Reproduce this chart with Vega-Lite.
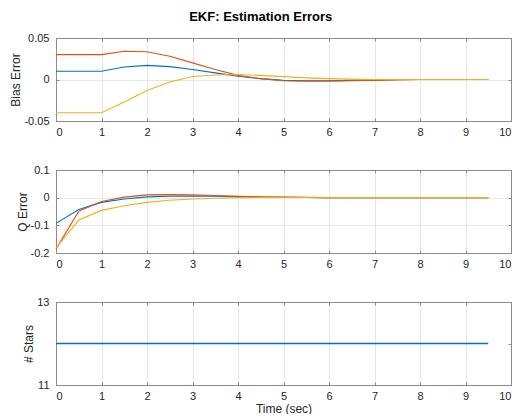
{
  "$schema": "https://vega.github.io/schema/vega-lite/v6.json",
  "padding": {"left": 9, "top": 11, "right": 2, "bottom": 0},
  "title": {"text": "EKF: Estimation Errors", "fontSize": 13, "fontWeight": "bold", "color": "#000000", "anchor": "middle", "offset": 8},
  "config": {
    "font": "Liberation Sans",
    "view": {"stroke": null},
    "axis": {
      "domainColor": "#8c8c8c",
      "tickColor": "#8c8c8c",
      "tickSize": -3,
      "labelColor": "#262626",
      "labelFontSize": 11,
      "labelFont": "Liberation Sans",
      "titleFont": "Liberation Sans",
      "titleFontSize": 12,
      "titleFontWeight": "normal",
      "titleColor": "#262626",
      "gridColor": "#e6e6e6"
    },
    "axisX": {"labelPadding": 8},
    "axisY": {"labelPadding": 10, "titlePadding": 1},
    "line": {"strokeWidth": 1.1}
  },
  "datasets": {
    "bias": [
      {"t":0,"s":"a","v":0.01},{"t":0.5,"s":"a","v":0.01},{"t":1,"s":"a","v":0.01},{"t":1.5,"s":"a","v":0.015},{"t":2,"s":"a","v":0.017},{"t":2.5,"s":"a","v":0.0155},{"t":3,"s":"a","v":0.012},{"t":3.5,"s":"a","v":0.008},{"t":4,"s":"a","v":0.004},{"t":4.5,"s":"a","v":0.001},{"t":5,"s":"a","v":-0.001},{"t":5.5,"s":"a","v":-0.0015},{"t":6,"s":"a","v":-0.0015},{"t":6.5,"s":"a","v":-0.001},{"t":7,"s":"a","v":-0.0005},{"t":7.5,"s":"a","v":0},{"t":8,"s":"a","v":0},{"t":8.5,"s":"a","v":0},{"t":9,"s":"a","v":0},{"t":9.5,"s":"a","v":0},
      {"t":0,"s":"b","v":0.03},{"t":0.5,"s":"b","v":0.03},{"t":1,"s":"b","v":0.03},{"t":1.5,"s":"b","v":0.034},{"t":2,"s":"b","v":0.0335},{"t":2.5,"s":"b","v":0.028},{"t":3,"s":"b","v":0.02},{"t":3.5,"s":"b","v":0.012},{"t":4,"s":"b","v":0.005},{"t":4.5,"s":"b","v":0.001},{"t":5,"s":"b","v":-0.0015},{"t":5.5,"s":"b","v":-0.002},{"t":6,"s":"b","v":-0.002},{"t":6.5,"s":"b","v":-0.0015},{"t":7,"s":"b","v":-0.001},{"t":7.5,"s":"b","v":-0.0005},{"t":8,"s":"b","v":0},{"t":8.5,"s":"b","v":0},{"t":9,"s":"b","v":0},{"t":9.5,"s":"b","v":0},
      {"t":0,"s":"c","v":-0.04},{"t":0.5,"s":"c","v":-0.04},{"t":1,"s":"c","v":-0.04},{"t":1.5,"s":"c","v":-0.027},{"t":2,"s":"c","v":-0.0133},{"t":2.5,"s":"c","v":-0.003},{"t":3,"s":"c","v":0.0036},{"t":3.5,"s":"c","v":0.0055},{"t":4,"s":"c","v":0.006},{"t":4.5,"s":"c","v":0.005},{"t":5,"s":"c","v":0.0035},{"t":5.5,"s":"c","v":0.002},{"t":6,"s":"c","v":0.001},{"t":6.5,"s":"c","v":0.0005},{"t":7,"s":"c","v":0},{"t":7.5,"s":"c","v":0},{"t":8,"s":"c","v":0},{"t":8.5,"s":"c","v":0},{"t":9,"s":"c","v":0},{"t":9.5,"s":"c","v":0}
    ],
    "q": [
      {"t":0,"s":"a","v":-0.093},{"t":0.5,"s":"a","v":-0.043},{"t":1,"s":"a","v":-0.017},{"t":1.5,"s":"a","v":-0.005},{"t":2,"s":"a","v":0.003},{"t":2.5,"s":"a","v":0.005},{"t":3,"s":"a","v":0.006},{"t":3.5,"s":"a","v":0.005},{"t":4,"s":"a","v":0.004},{"t":4.5,"s":"a","v":0.002},{"t":5,"s":"a","v":0.001},{"t":5.5,"s":"a","v":0.0005},{"t":6,"s":"a","v":0},{"t":6.5,"s":"a","v":0},{"t":7,"s":"a","v":0},{"t":7.5,"s":"a","v":0},{"t":8,"s":"a","v":0},{"t":8.5,"s":"a","v":0},{"t":9,"s":"a","v":0},{"t":9.5,"s":"a","v":0},
      {"t":0,"s":"b","v":-0.186},{"t":0.5,"s":"b","v":-0.049},{"t":1,"s":"b","v":-0.014},{"t":1.5,"s":"b","v":0.002},{"t":2,"s":"b","v":0.01},{"t":2.5,"s":"b","v":0.011},{"t":3,"s":"b","v":0.01},{"t":3.5,"s":"b","v":0.008},{"t":4,"s":"b","v":0.005},{"t":4.5,"s":"b","v":0.003},{"t":5,"s":"b","v":0.002},{"t":5.5,"s":"b","v":0.001},{"t":6,"s":"b","v":0},{"t":6.5,"s":"b","v":0},{"t":7,"s":"b","v":0},{"t":7.5,"s":"b","v":0},{"t":8,"s":"b","v":0},{"t":8.5,"s":"b","v":0},{"t":9,"s":"b","v":0},{"t":9.5,"s":"b","v":0},
      {"t":0,"s":"c","v":-0.182},{"t":0.5,"s":"c","v":-0.081},{"t":1,"s":"c","v":-0.046},{"t":1.5,"s":"c","v":-0.029},{"t":2,"s":"c","v":-0.017},{"t":2.5,"s":"c","v":-0.0095},{"t":3,"s":"c","v":-0.005},{"t":3.5,"s":"c","v":-0.002},{"t":4,"s":"c","v":0},{"t":4.5,"s":"c","v":0.001},{"t":5,"s":"c","v":0.001},{"t":5.5,"s":"c","v":0.0005},{"t":6,"s":"c","v":0},{"t":6.5,"s":"c","v":0},{"t":7,"s":"c","v":0},{"t":7.5,"s":"c","v":0},{"t":8,"s":"c","v":0},{"t":8.5,"s":"c","v":0},{"t":9,"s":"c","v":0},{"t":9.5,"s":"c","v":0}
    ],
    "stars": [
      {"t":0,"s":"a","v":12},{"t":0.5,"s":"a","v":12},{"t":1,"s":"a","v":12},{"t":1.5,"s":"a","v":12},{"t":2,"s":"a","v":12},{"t":2.5,"s":"a","v":12},{"t":3,"s":"a","v":12},{"t":3.5,"s":"a","v":12},{"t":4,"s":"a","v":12},{"t":4.5,"s":"a","v":12},{"t":5,"s":"a","v":12},{"t":5.5,"s":"a","v":12},{"t":6,"s":"a","v":12},{"t":6.5,"s":"a","v":12},{"t":7,"s":"a","v":12},{"t":7.5,"s":"a","v":12},{"t":8,"s":"a","v":12},{"t":8.5,"s":"a","v":12},{"t":9,"s":"a","v":12},{"t":9.5,"s":"a","v":12}
    ]
  },
  "vconcat": [
    {
      "width": 455, "height": 83,
      "data": {"name": "bias"},
      "resolve": {"axis": {"x": "independent", "y": "independent"}},
      "layer": [
        {
          "mark": {"type": "line"},
          "encoding": {
            "x": {"field": "t", "type": "quantitative", "scale": {"domain": [0, 10], "nice": false}, "axis": {"orient": "bottom", "values": [0,1,2,3,4,5,6,7,8,9,10], "title": null, "grid": true}},
            "y": {"field": "v", "type": "quantitative", "scale": {"domain": [-0.05, 0.05], "nice": false, "zero": false}, "axis": {"orient": "left", "values": [-0.05, 0, 0.05], "title": "Bias Error", "grid": true, "labelExpr": "replace(format(datum.value, '~g'), '\u2212', '-')"}},
            "color": {"field": "s", "type": "nominal", "scale": {"domain": ["a","b","c"], "range": ["#0072BD", "#D95319", "#EDB120"]}, "legend": null}
          }
        },
        {
          "mark": {"type": "line", "opacity": 0},
          "encoding": {
            "x": {"field": "t", "type": "quantitative", "axis": {"orient": "top", "values": [0,1,2,3,4,5,6,7,8,9,10], "title": null, "labels": false, "grid": false}},
            "y": {"field": "v", "type": "quantitative", "axis": {"orient": "right", "values": [-0.05, 0, 0.05], "title": null, "labels": false, "grid": false}},
            "detail": {"field": "s"}
          }
        }
      ]
    },
    {
      "width": 455, "height": 83,
      "data": {"name": "q"},
      "resolve": {"axis": {"x": "independent", "y": "independent"}},
      "layer": [
        {
          "mark": {"type": "line"},
          "encoding": {
            "x": {"field": "t", "type": "quantitative", "scale": {"domain": [0, 10], "nice": false}, "axis": {"orient": "bottom", "values": [0,1,2,3,4,5,6,7,8,9,10], "title": null, "grid": true}},
            "y": {"field": "v", "type": "quantitative", "scale": {"domain": [-0.2, 0.1], "nice": false, "zero": false}, "axis": {"orient": "left", "values": [-0.2, -0.1, 0, 0.1], "title": "Q Error", "grid": true, "labelExpr": "replace(format(datum.value, '~g'), '\u2212', '-')"}},
            "color": {"field": "s", "type": "nominal", "scale": {"domain": ["a","b","c"], "range": ["#0072BD", "#D95319", "#EDB120"]}, "legend": null}
          }
        },
        {
          "mark": {"type": "line", "opacity": 0},
          "encoding": {
            "x": {"field": "t", "type": "quantitative", "axis": {"orient": "top", "values": [0,1,2,3,4,5,6,7,8,9,10], "title": null, "labels": false, "grid": false}},
            "y": {"field": "v", "type": "quantitative", "axis": {"orient": "right", "values": [-0.2, -0.1, 0, 0.1], "title": null, "labels": false, "grid": false}},
            "detail": {"field": "s"}
          }
        }
      ]
    },
    {
      "width": 455, "height": 83,
      "data": {"name": "stars"},
      "resolve": {"axis": {"x": "independent", "y": "independent"}},
      "layer": [
        {
          "mark": {"type": "line", "color": "#0072BD", "strokeWidth": 1.3},
          "encoding": {
            "x": {"field": "t", "type": "quantitative", "scale": {"domain": [0, 10], "nice": false}, "axis": {"orient": "bottom", "values": [0,1,2,3,4,5,6,7,8,9,10], "title": "Time (sec)", "titlePadding": 2, "grid": true}},
            "y": {"field": "v", "type": "quantitative", "scale": {"domain": [11, 13], "nice": false, "zero": false}, "axis": {"orient": "left", "values": [11, 12, 13], "format": "d", "title": "# Stars", "grid": true}}
          }
        },
        {
          "mark": {"type": "line", "opacity": 0},
          "encoding": {
            "x": {"field": "t", "type": "quantitative", "axis": {"orient": "top", "values": [0,1,2,3,4,5,6,7,8,9,10], "title": null, "labels": false, "grid": false}},
            "y": {"field": "v", "type": "quantitative", "axis": {"orient": "right", "values": [11, 12, 13], "title": null, "labels": false, "grid": false}}
          }
        }
      ]
    }
  ],
  "spacing": 49,
  "bounds": "flush"
}
